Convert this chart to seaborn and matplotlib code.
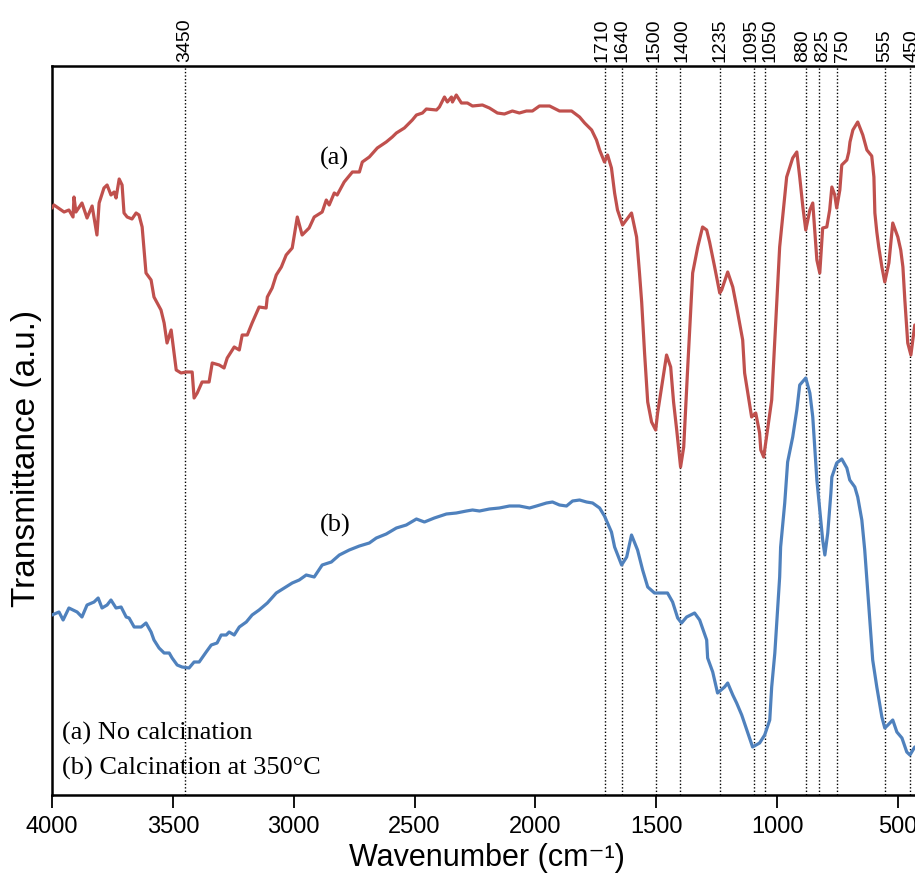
import matplotlib
matplotlib.use("Agg")
import matplotlib.pyplot as plt
import seaborn as sns
import pandas as pd

# ---- data ----
wn_a = [4000, 3992, 3950, 3930, 3913, 3909, 3901, 3876, 3855, 3834, 3814, 3805, 3785, 3772, 3756, 3743,
        3735, 3722, 3710, 3702, 3689, 3669, 3652, 3640, 3627, 3611, 3590, 3578, 3549, 3536, 3524, 3507,
        3486, 3466, 3445, 3420, 3412, 3399, 3379, 3350, 3337, 3308, 3288, 3275, 3246, 3225, 3213, 3192,
        3172, 3143, 3114, 3109, 3089, 3072, 3051, 3031, 3006, 2985, 2965, 2936, 2915, 2882, 2865, 2853,
        2832, 2820, 2791, 2757, 2728, 2716, 2687, 2654, 2617, 2592, 2575, 2542, 2509, 2492, 2467, 2451,
        2409, 2397, 2376, 2364, 2347, 2343, 2327, 2306, 2281, 2260, 2219, 2190, 2157, 2128, 2095, 2066,
        2037, 2012, 1983, 1941, 1900, 1850, 1817, 1796, 1767, 1747, 1734, 1714, 1701, 1685, 1672, 1660,
        1639, 1602, 1581, 1569, 1560, 1548, 1535, 1519, 1502, 1494, 1473, 1457, 1440, 1428, 1415, 1399,
        1386, 1370, 1349, 1328, 1308, 1291, 1279, 1258, 1237, 1229, 1204, 1183, 1167, 1142, 1134, 1105,
        1088, 1072, 1067, 1055, 1022, 989, 960, 935, 918, 906, 893, 881, 864, 852, 844, 835,
        823, 811, 794, 782, 773, 761, 753, 740, 732, 711, 703, 698, 686, 666, 645, 628,
        608, 599, 595, 587, 579, 566, 554, 537, 521, 500, 488, 479, 471, 459, 446, 430]
t_a = [587, 590, 583, 585, 578, 598, 583, 592, 577, 589, 560, 592, 607, 610, 600, 603,
       597, 616, 610, 582, 578, 576, 582, 580, 568, 522, 515, 498, 485, 472, 452, 465,
       425, 422, 423, 423, 397, 402, 413, 413, 432, 430, 427, 437, 448, 445, 460, 460,
       472, 488, 487, 498, 507, 520, 528, 540, 547, 578, 560, 567, 578, 583, 595, 590,
       602, 600, 613, 623, 623, 633, 638, 647, 653, 658, 662, 667, 675, 680, 682, 686,
       685, 688, 698, 693, 698, 693, 700, 692, 692, 689, 690, 687, 682, 681, 684, 682,
       684, 684, 689, 689, 684, 684, 678, 672, 665, 655, 645, 633, 640, 627, 602, 585,
       570, 582, 558, 522, 493, 442, 393, 373, 365, 382, 415, 440, 428, 393, 365, 328,
       348, 425, 522, 548, 568, 565, 553, 528, 502, 505, 523, 508, 488, 455, 422, 378,
       382, 362, 345, 338, 395, 548, 618, 637, 643, 618, 588, 565, 585, 592, 565, 535,
       522, 567, 568, 585, 608, 600, 587, 605, 630, 635, 643, 653, 665, 673, 660, 645,
       639, 618, 582, 563, 548, 528, 513, 532, 572, 558, 545, 528, 495, 452, 440, 470]

wn_b = [4000, 3971, 3954, 3930, 3896, 3876, 3855, 3826, 3809, 3793, 3772, 3756, 3735, 3714, 3693, 3681,
        3660, 3631, 3611, 3590, 3578, 3557, 3536, 3515, 3503, 3482, 3462, 3433, 3412, 3391, 3362, 3341,
        3317, 3300, 3279, 3267, 3246, 3225, 3196, 3172, 3143, 3109, 3072, 3039, 3006, 2977, 2948, 2915,
        2882, 2844, 2811, 2770, 2728, 2687, 2658, 2617, 2575, 2534, 2492, 2459, 2418, 2368, 2327, 2285,
        2260, 2231, 2190, 2149, 2107, 2066, 2024, 1995, 1954, 1929, 1900, 1871, 1846, 1817, 1788, 1763,
        1734, 1714, 1685, 1672, 1643, 1622, 1602, 1577, 1556, 1535, 1507, 1473, 1453, 1432, 1411, 1395,
        1374, 1341, 1320, 1291, 1287, 1266, 1246, 1217, 1204, 1183, 1167, 1146, 1125, 1101, 1072, 1051,
        1030, 1022, 1009, 989, 985, 968, 956, 935, 918, 906, 881, 864, 852, 844, 835, 823,
        811, 802, 790, 777, 773, 753, 732, 711, 699, 678, 666, 649, 637, 628, 616, 604,
        587, 566, 554, 541, 521, 504, 483, 463, 450, 430]
t_b = [180, 183, 175, 187, 183, 178, 190, 193, 197, 187, 190, 195, 187, 188, 178, 177,
       168, 168, 172, 163, 155, 147, 142, 142, 137, 130, 128, 127, 133, 133, 143, 150,
       152, 160, 160, 163, 160, 168, 173, 180, 185, 192, 202, 207, 212, 215, 220, 218,
       230, 233, 240, 245, 249, 252, 257, 261, 267, 270, 276, 273, 277, 281, 282, 284,
       285, 284, 286, 287, 289, 289, 287, 289, 292, 293, 290, 289, 294, 295, 293, 292,
       287, 279, 263, 248, 230, 238, 260, 245, 225, 208, 202, 202, 202, 193, 177, 172,
       178, 182, 175, 155, 137, 123, 102, 108, 112, 100, 92, 80, 65, 48, 52, 60,
       75, 108, 142, 218, 248, 292, 333, 358, 385, 410, 417, 402, 378, 348, 315, 285,
       255, 240, 262, 302, 318, 332, 336, 327, 315, 308, 298, 275, 245, 215, 175, 135,
       108, 78, 67, 70, 75, 63, 57, 43, 40, 48]

peaks = [3450, 1710, 1640, 1500, 1400, 1235, 1095, 1050, 880, 825, 750, 555, 450]
peak_label_shift = [0, -3, 0, -2, 2, 0, -3, 5, -3, 3, 5, 0, 2]   # px nudges of the labels
x_ticks = [4000, 3500, 3000, 2500, 2000, 1500, 1000, 500]
label_a = "(a)"
label_b = "(b)"
legend_lines = ["(a) No calcination", "(b) Calcination at 350°C"]

# ---- plotting ----
sns.set_theme(style="ticks")
plt.rcParams["font.family"] = ["Liberation Sans", "DejaVu Sans"]
plt.rcParams["text.color"] = "black"
plt.rcParams["axes.labelcolor"] = "black"

RED = "#C0504D"
BLUE = "#4F81BD"

fig = plt.figure(figsize=(9.15, 8.74), dpi=100)
ax = fig.add_axes([52 / 915, 79 / 874, 870 / 915, 729 / 874])

df_a = pd.DataFrame({"wn": wn_a, "t": t_a})
df_b = pd.DataFrame({"wn": wn_b, "t": t_b})
sns.lineplot(data=df_a, x="wn", y="t", ax=ax, color=RED, lw=2.3, estimator=None, sort=False, zorder=3)
sns.lineplot(data=df_b, x="wn", y="t", ax=ax, color=BLUE, lw=2.3, estimator=None, sort=False, zorder=3)

ax.set_xlim(4000, 400)
ax.set_ylim(0, 729)

for p, dx in zip(peaks, peak_label_shift):
    ax.axvline(p, color="black", lw=1.0, ls=(0, (1, 1.5)), zorder=1)
    ax.annotate(str(p), xy=(p, 1.0), xycoords=ax.get_xaxis_transform(),
                xytext=(dx * 0.72, 3), textcoords="offset points", rotation=90,
                ha="center", va="bottom", fontsize=14, color="black")

ax.set_xticks(x_ticks)
ax.set_xticklabels([str(v) for v in x_ticks])
ax.set_yticks([])
ax.tick_params(axis="x", direction="out", length=9, width=1.3, labelsize=17, pad=6, colors="black")

for side in ["left", "bottom", "top", "right"]:
    ax.spines[side].set_color("black")
    ax.spines[side].set_linewidth(1.8)

ax.set_xlabel("Wavenumber (cm⁻¹)", fontsize=22, labelpad=4, color="black",
              family=["Liberation Sans", "DejaVu Sans"])
ax.set_ylabel("Transmittance (a.u.)", fontsize=24, color="black")
ax.yaxis.set_label_coords(-0.011, 0.461)

serif = ["Liberation Serif", "DejaVu Serif"]
ax.text(2832, 637, label_a, ha="center", va="center", fontsize=19, family=serif, color="black")
ax.text(2828, 270, label_b, ha="center", va="center", fontsize=19, family=serif, color="black")
ax.text(0.012, 0.085, legend_lines[0], transform=ax.transAxes, ha="left", va="center",
        fontsize=19, family=serif, color="black")
ax.text(0.012, 0.036, legend_lines[1], transform=ax.transAxes, ha="left", va="center",
        fontsize=19, family=serif, color="black")

fig.savefig("out.png", dpi=100)
